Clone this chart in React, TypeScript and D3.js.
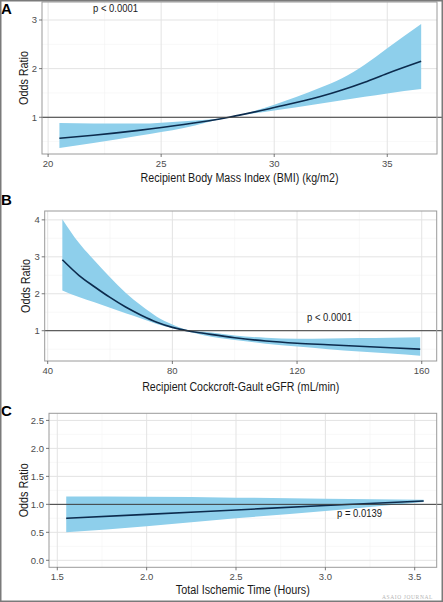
import React from 'react';
import * as d3 from 'd3';

// Panel A: recipient BMI
const bmiX = [20.5, 22, 24, 26, 28, 30, 32, 33, 34, 35, 36.5];
const bmiOr = [0.57, 0.63, 0.73, 0.85, 1.0, 1.2, 1.42, 1.56, 1.72, 1.9, 2.15];
const bmiLo = [0.37, 0.47, 0.62, 0.78, 1.0, 1.14, 1.28, 1.35, 1.42, 1.49, 1.58];
const bmiHi = [0.88, 0.87, 0.87, 0.92, 1.0, 1.26, 1.6, 1.8, 2.08, 2.42, 2.92];

// Panel B: recipient eGFR
const gfrX = [44.7, 50, 55, 60, 65, 70, 75, 80, 86, 90, 100, 110, 120, 130, 140, 150, 159.5];
const gfrOr = [2.92, 2.5, 2.19, 1.9, 1.64, 1.42, 1.23, 1.09, 0.98, 0.93, 0.81, 0.72, 0.66, 0.62, 0.58, 0.54, 0.5];
const gfrLo = [2.09, 1.91, 1.77, 1.62, 1.47, 1.33, 1.18, 1.07, 0.96, 0.88, 0.75, 0.65, 0.57, 0.5, 0.44, 0.38, 0.32];
const gfrHi = [4.02, 3.38, 2.9, 2.45, 2.03, 1.68, 1.38, 1.17, 1.0, 0.97, 0.87, 0.81, 0.78, 0.79, 0.8, 0.81, 0.82];

// Panel C: total ischemic time
const ischX = [1.55, 2.0, 2.5, 3.0, 3.55];
const ischOr = [0.75, 0.82, 0.9, 0.98, 1.06];
const ischLo = [0.5, 0.61, 0.75, 0.88, 1.04];
const ischHi = [1.14, 1.135, 1.12, 1.1, 1.08];

const bmiTicks = [20, 25, 30, 35];
const gfrTicks = [40, 80, 120, 160];
const ischTicks = [1.5, 2.0, 2.5, 3.0, 3.5];
const bmiYTicks = [1, 2, 3];
const gfrYTicks = [1, 2, 3, 4];
const ischYTicks = [0, 0.5, 1.0, 1.5, 2.0, 2.5];

const FONT = '"Liberation Sans", Arial, Helvetica, sans-serif';
const BAND = '#8ecfeb';
const LINE = '#0c2b4d';

interface PanelProps {
  letter: string;
  letterY: number;
  xs: number[];
  mid: number[];
  lo: number[];
  hi: number[];
  xDomain: [number, number];
  yDomain: [number, number];
  box: { left: number; right: number; top: number; bottom: number };
  xTicks: number[];
  xMinor: number[];
  yTicks: number[];
  yMinor: number[];
  xFmt: (v: number) => string;
  yFmt: (v: number) => string;
  xTitle: string;
  xTitleW: number;
  xTitleY: number;
  yTitleX: number;
  pText: string;
  pX: number;
  pY: number;
}

const Panel: React.FC<PanelProps> = (p) => {
  const { box } = p;
  const x = d3.scaleLinear().domain(p.xDomain).range([box.left, box.right]);
  const y = d3.scaleLinear().domain(p.yDomain).range([box.bottom, box.top]);
  const rows = p.xs.map((v, i) => ({ x: v, m: p.mid[i], l: p.lo[i], h: p.hi[i] }));

  const area = d3.area<typeof rows[0]>()
    .x(d => x(d.x))
    .y0(d => y(d.l))
    .y1(d => y(d.h))
    .curve(d3.curveMonotoneX);
  const line = d3.line<typeof rows[0]>()
    .x(d => x(d.x))
    .y(d => y(d.m))
    .curve(d3.curveMonotoneX);

  const midY = (box.top + box.bottom) / 2;

  return (
    <g>
      <text x={1} y={p.letterY} fontFamily={FONT} fontWeight="bold" fontSize={15}>{p.letter}</text>
      {/* minor grid */}
      {p.xMinor.map(v => (
        <line key={'xm' + v} x1={x(v)} x2={x(v)} y1={box.top} y2={box.bottom} stroke="#f3f3f3" strokeWidth={0.6} />
      ))}
      {p.yMinor.map(v => (
        <line key={'ym' + v} x1={box.left} x2={box.right} y1={y(v)} y2={y(v)} stroke="#f3f3f3" strokeWidth={0.6} />
      ))}
      {/* major grid */}
      {p.xTicks.map(v => (
        <line key={'xg' + v} x1={x(v)} x2={x(v)} y1={box.top} y2={box.bottom} stroke="#e3e3e3" strokeWidth={1} />
      ))}
      {p.yTicks.map(v => (
        <line key={'yg' + v} x1={box.left} x2={box.right} y1={y(v)} y2={y(v)} stroke="#e3e3e3" strokeWidth={1} />
      ))}
      <path d={area(rows) || ''} fill={BAND} />
      <path d={line(rows) || ''} fill="none" stroke={LINE} strokeWidth={1.6} />
      <line x1={box.left} x2={442} y1={y(1)} y2={y(1)} stroke="#3a3a3a" strokeWidth={1} />
      <rect x={box.left} y={box.top} width={box.right - box.left} height={box.bottom - box.top}
        fill="none" stroke="#9a9a9a" strokeWidth={1} />
      {/* y axis */}
      {p.yTicks.map(v => (
        <g key={'yt' + v}>
          <line x1={box.left - 3} x2={box.left} y1={y(v)} y2={y(v)} stroke="#555" strokeWidth={0.8} />
          <text x={box.left - 5} y={y(v)} dy="0.35em" textAnchor="end" fontFamily={FONT} fontSize={9.5} fill="#4d4d4d">
            {p.yFmt(v)}
          </text>
        </g>
      ))}
      {/* x axis */}
      {p.xTicks.map(v => (
        <g key={'xt' + v}>
          <line x1={x(v)} x2={x(v)} y1={box.bottom} y2={box.bottom + 3} stroke="#555" strokeWidth={0.8} />
          <text x={x(v)} y={box.bottom + 12.5} textAnchor="middle" fontFamily={FONT} fontSize={9.5} fill="#4d4d4d">
            {p.xFmt(v)}
          </text>
        </g>
      ))}
      <text x={(box.left + box.right) / 2} y={p.xTitleY} textAnchor="middle" fontFamily={FONT} fontSize={12}
        textLength={p.xTitleW} lengthAdjust="spacingAndGlyphs" fill="#1a1a1a">
        {p.xTitle}
      </text>
      <text transform={`translate(${p.yTitleX},${midY}) rotate(-90)`} textAnchor="middle" fontFamily={FONT} fontSize={12}
        textLength={54} lengthAdjust="spacingAndGlyphs" fill="#1a1a1a">
        Odds Ratio
      </text>
      <text x={p.pX} y={p.pY} fontFamily={FONT} fontSize={10.5} textLength={45} lengthAdjust="spacingAndGlyphs" fill="#1a1a1a">
        {p.pText}
      </text>
    </g>
  );
};

export default function App() {
  const f0 = (v: number) => d3.format('d')(v);
  const f1 = (v: number) => d3.format('.1f')(v);
  return (
    <svg width={443} height={602} style={{ position: 'absolute', left: 0, top: 0, background: '#fff' }}>
      <rect x={0} y={0} width={443} height={602} fill="#fff" />
      <Panel
        letter="A" letterY={14}
        xs={bmiX} mid={bmiOr} lo={bmiLo} hi={bmiHi}
        xDomain={[19.73, 37.2]} yDomain={[0.245, 3.37]}
        box={{ left: 42, right: 437, top: 2, bottom: 154 }}
        xTicks={bmiTicks} xMinor={[22.5, 27.5, 32.5]}
        yTicks={bmiYTicks} yMinor={[0.5, 1.5, 2.5]}
        xFmt={f0} yFmt={f0}
        xTitle="Recipient Body Mass Index (BMI) (kg/m2)" xTitleW={198} xTitleY={181.5} yTitleX={27.5}
        pText="p < 0.0001" pX={93} pY={12}
      />
      <Panel
        letter="B" letterY={205}
        xs={gfrX} mid={gfrOr} lo={gfrLo} hi={gfrHi}
        xDomain={[39.04, 164.8]} yDomain={[0.18, 4.24]}
        box={{ left: 44.7, right: 436.7, top: 211, bottom: 361 }}
        xTicks={gfrTicks} xMinor={[60, 100, 140]}
        yTicks={gfrYTicks} yMinor={[0.5, 1.5, 2.5, 3.5]}
        xFmt={f0} yFmt={f0}
        xTitle="Recipient Cockcroft-Gault eGFR (mL/min)" xTitleW={197} xTitleY={390.5} yTitleX={30}
        pText="p < 0.0001" pX={307} pY={320.5}
      />
      <Panel
        letter="C" letterY={416}
        xs={ischX} mid={ischOr} lo={ischLo} hi={ischHi}
        xDomain={[1.4536, 3.623]} yDomain={[-0.125, 2.627]}
        box={{ left: 49, right: 436.7, top: 413.3, bottom: 567.3 }}
        xTicks={ischTicks} xMinor={[1.75, 2.25, 2.75, 3.25]}
        yTicks={ischYTicks} yMinor={[0.25, 0.75, 1.25, 1.75, 2.25]}
        xFmt={f1} yFmt={f1}
        xTitle="Total Ischemic Time (Hours)" xTitleW={134} xTitleY={594} yTitleX={27.5}
        pText="p = 0.0139" pX={337} pY={517}
      />
      <text x={433} y={599} textAnchor="end" fontFamily='"Liberation Serif", serif' fontSize={5.5} letterSpacing={0.6} fill="#b5b5b5">
        ASAIO JOURNAL
      </text>
      <rect x={0.75} y={0.75} width={441.5} height={600.5} fill="none" stroke="#7a7a7a" strokeWidth={1.5} />
    </svg>
  );
}
